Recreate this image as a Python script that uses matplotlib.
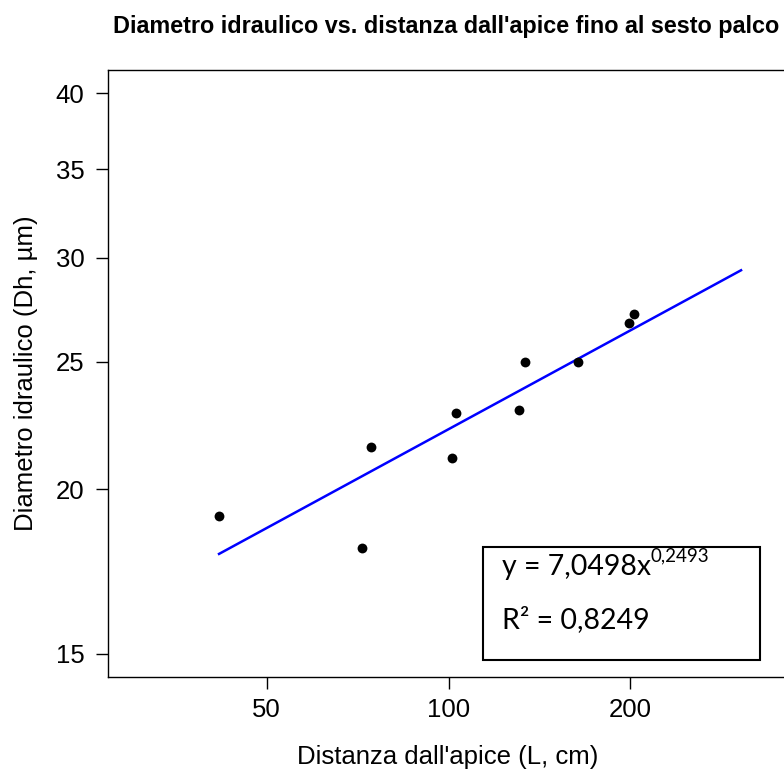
import numpy as np
import matplotlib
matplotlib.use("Agg")
import matplotlib.pyplot as plt
from matplotlib.patches import Rectangle
from matplotlib.ticker import FixedLocator, NullLocator, FixedFormatter

# data (log-log scatter)
dist_cm = [41.7, 74.5, 71.9, 103.0, 101.2, 133.7, 130.8, 164.0, 198.8, 202.8]
dh_um = [19.10, 21.53, 18.05, 22.88, 21.14, 25.00, 22.99, 25.00, 26.78, 27.16]

# power-law trend y = a * x^b
fit_a = 7.0498
fit_b = 0.2493
fit_x_range = [41.7, 305]

x_ticks = [50, 100, 200]
y_ticks = [15, 20, 25, 30, 35, 40]

title = "Diametro idraulico vs. distanza dall'apice fino al sesto palco"
xlabel = "Distanza dall'apice (L, cm)"
ylabel = "Diametro idraulico (Dh, µm)"
eq_text = "y = 7,0498x"
eq_sup = "0,2493"
r2_text = "R² = 0,8249"

plt.rcParams['font.family'] = ['Liberation Sans', 'DejaVu Sans']

W, H = 784, 771
fig = plt.figure(figsize=(W / 100, H / 100), dpi=100)
ax = fig.add_axes([108.3 / W, 1 - 677.3 / H, (787 - 108.3) / W, (677.3 - 70) / H])

ax.set_xscale('log')
ax.set_yscale('log')
ax.set_xlim(27.34, 363.4)
ax.set_ylim(14.40, 41.65)

fx = np.geomspace(fit_x_range[0], fit_x_range[1], 50)
ax.plot(fx, fit_a * fx ** fit_b, color='#0000FF', lw=1.8, zorder=2)
ax.scatter(dist_cm, dh_um, s=50, color='black', zorder=3, linewidths=0)

ax.xaxis.set_major_locator(FixedLocator(x_ticks))
ax.xaxis.set_major_formatter(FixedFormatter([str(v) for v in x_ticks]))
ax.xaxis.set_minor_locator(NullLocator())
ax.yaxis.set_major_locator(FixedLocator(y_ticks))
ax.yaxis.set_major_formatter(FixedFormatter([str(v) for v in y_ticks]))
ax.yaxis.set_minor_locator(NullLocator())

ax.tick_params(axis='both', direction='out', length=8.6, width=1, labelsize=18.5)
ax.tick_params(axis='x', pad=6)
ax.tick_params(axis='y', pad=8.6)
for s in ax.spines.values():
    s.set_linewidth(1)
    s.set_color('black')

ax.set_xlabel(xlabel, fontsize=18.5, va='top')
ax.xaxis.set_label_coords(0.5, -0.112)
ax.set_ylabel(ylabel, fontsize=18.5)
ax.yaxis.set_label_coords(-0.1036, 0.5)

fig.text(446 / W, 1 - 27 / H, title, ha='center', va='center',
         fontsize=16.8, fontweight='bold')

# equation box
fig.patches.append(Rectangle((483.3 / W, 1 - 660 / H), (760 - 483.3) / W, (660 - 546.7) / H,
                             transform=fig.transFigure, fill=False, edgecolor='black',
                             lw=1.5, figure=fig))
t1 = fig.text(501.7 / W, 1 - 567 / H, eq_text, ha='left', va='center',
              fontsize=20.5, family='Lato')
fig.draw_without_rendering()
ax.annotate(eq_sup, xy=(1.0, 0.6), xycoords=t1, ha='left', va='bottom',
            fontsize=13.5, family='Lato')
fig.text(501.7 / W, 1 - 620 / H, r2_text, ha='left', va='center',
         fontsize=20.5, family='Lato')

plt.savefig('out.png', dpi=100)
plt.close()
